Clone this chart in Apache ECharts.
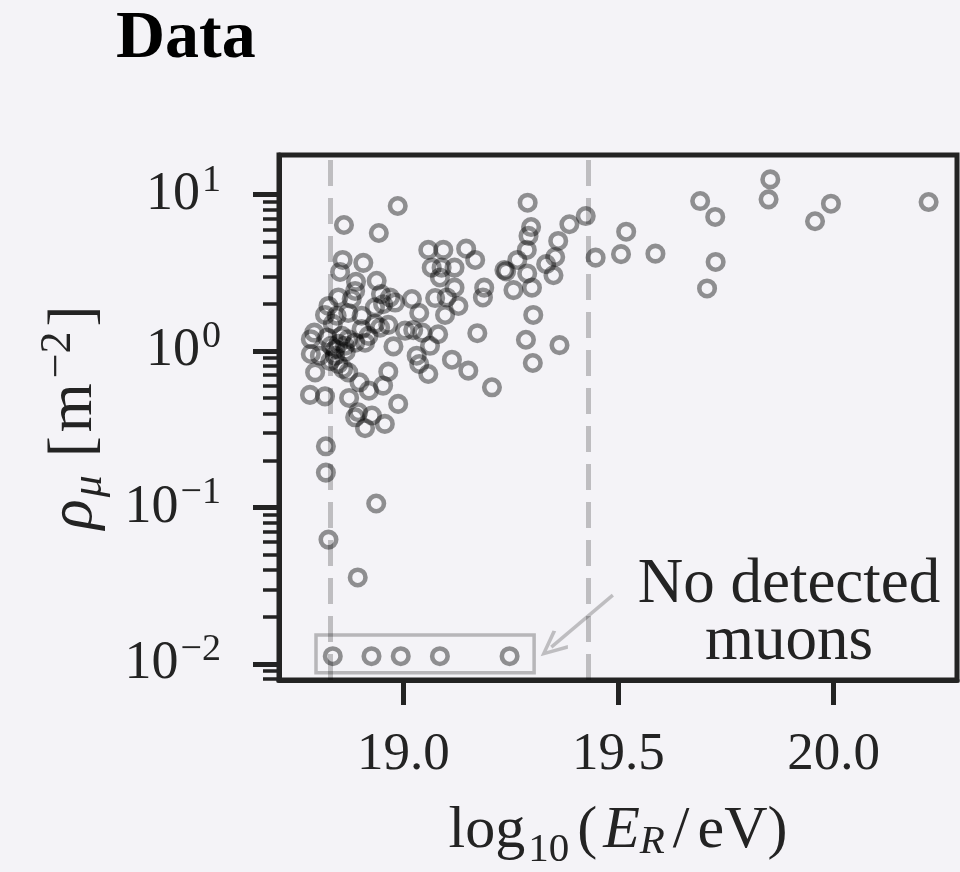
<!DOCTYPE html>
<html>
<head>
<meta charset="utf-8">
<script src="https://cdn.jsdelivr.net/npm/echarts@6/dist/echarts.min.js"></script>
<style>
  html, body { margin: 0; padding: 0; background: #f4f3f7; }
  #chart { width: 960px; height: 872px; }
</style>
</head>
<body>
<div id="chart"></div>
<script>
// log10(E_R / eV) of every event with a muon signal
var energy = [
  18.987, 18.862, 18.943, 18.859, 18.907, 18.853, 18.890, 18.888, 18.938, 18.849,
  18.880, 18.826, 18.818, 18.845, 18.872, 18.903, 18.948, 18.969, 18.981, 18.953,
  18.934, 19.020, 19.037, 19.023, 19.044, 19.004, 19.062, 19.081, 19.031, 19.037,
  19.058, 19.113, 19.151, 19.172, 19.206, 18.977, 18.965, 18.953, 18.920, 18.898,
  18.874, 18.818, 18.783, 18.795, 18.785, 18.785, 18.793, 18.806, 18.832, 18.849,
  18.864, 18.872, 18.888, 18.911, 18.919, 18.903, 18.934, 18.946, 18.965, 18.841,
  18.849, 18.860, 18.872, 18.988, 18.927, 18.895, 18.888, 18.957, 18.911, 19.058,
  19.093, 19.146, 19.167, 19.066, 19.089, 19.119, 19.085, 19.119, 19.074, 19.101,
  19.128, 19.097, 19.188, 19.185, 18.836, 18.823, 19.289, 19.297, 19.291, 19.424,
  19.386, 19.360, 19.353, 19.332, 19.349, 19.447, 19.287, 19.265, 19.235, 19.239,
  19.288, 19.299, 19.256, 19.302, 19.285, 19.301, 19.363, 19.518, 19.506, 19.586,
  19.690, 19.725, 19.726, 19.706, 19.853, 19.849, 19.994, 19.957, 20.221, 18.820,
  18.820, 18.937, 18.826, 18.894, 18.842, 18.866, 18.857, 18.830
];
// rho_mu in m^-2, same order
var muonDensity = [
  8.45, 6.39, 5.68, 3.82, 3.66, 3.20, 2.77, 2.42, 2.81, 2.20,
  2.15, 1.94, 1.70, 1.68, 1.75, 1.68, 2.31, 2.20, 2.04, 1.99,
  1.90, 2.15, 1.75, 1.36, 1.31, 1.35, 1.08, 1.28, 0.933, 0.826,
  0.713, 0.880, 0.749, 1.30, 0.586, 1.07, 0.738, 0.601, 0.558, 0.631,
  0.501, 0.513, 0.524, 0.730, 0.957, 1.19, 1.31, 0.933, 1.08, 1.11,
  1.08, 1.19, 1.13, 1.13, 1.25, 1.38, 1.49, 1.41, 1.47, 0.933,
  0.826, 0.768, 0.730, 0.459, 0.387, 0.406, 0.377, 0.342, 0.321, 4.43,
  4.43, 4.51, 3.82, 3.41, 3.41, 3.41, 2.95, 2.54, 2.18, 2.20,
  1.94, 1.70, 2.54, 2.20, 1.49, 1.22, 8.87, 6.20, 5.44, 7.29,
  6.46, 5.05, 3.99, 3.59, 3.05, 3.95, 4.43, 3.82, 3.29, 3.23,
  3.13, 2.54, 2.45, 1.70, 1.18, 0.838, 1.09, 5.79, 4.16, 4.19,
  9.09, 7.19, 3.71, 2.51, 12.5, 9.32, 8.74, 6.75, 8.96, 0.246,
  0.167, 0.106, 0.0623, 0.0357, 1.03, 0.99, 1.25, 0.86
];
// events without detected muons, drawn at a fixed floor value
var noMuonEnergy = [18.836, 18.926, 18.994, 19.085, 19.247];
var noMuonLevel = 0.0112;

var cutEnergy = [18.834, 19.434];
var xTicks = [19.0, 19.5, 20.0];
var yMajor = [0.01, 0.1, 1, 10];
var yMinor = [0.008, 0.009,
  0.02, 0.03, 0.04, 0.05, 0.06, 0.07, 0.08, 0.09,
  0.2, 0.3, 0.4, 0.5, 0.6, 0.7, 0.8, 0.9,
  2, 3, 4, 5, 6, 7, 8, 9];

var font = 'Liberation Serif';
var ink = '#232323';

var chart = echarts.init(document.getElementById('chart'));

var ringStyle = {
  color: 'rgba(0,0,0,0)',
  borderColor: 'rgba(0,0,0,0.52)',
  borderWidth: 4.6
};

chart.setOption({
  animation: false,
  backgroundColor: '#f4f3f7',
  textStyle: { fontFamily: font },
  title: {
    text: 'Data',
    left: 116,
    top: 5,
    padding: 0,
    textStyle: { fontFamily: font, fontWeight: 'bold', fontSize: 68, color: '#000' }
  },
  grid: {
    left: 279, right: 3, top: 155, bottom: 192,
    outerBoundsMode: 'none',
    containLabel: false,
    show: true, borderColor: ink, borderWidth: 5
  },
  xAxis: {
    type: 'value',
    min: 18.711,
    max: 20.287,
    splitLine: { show: false },
    axisLine: { lineStyle: { color: ink, width: 5 } },
    axisTick: { customValues: xTicks, length: 25, lineStyle: { color: ink, width: 5 } },
    axisLabel: {
      customValues: xTicks,
      margin: 49,
      fontSize: 53,
      color: ink,
      formatter: function (v) { return v.toFixed(1); }
    },
    name: '{t|log}{sub|10}{t|(}{it|E}{itsub|R}{sl|/}{t|eV)}',
    nameLocation: 'middle',
    nameGap: 112,
    nameTextStyle: {
      color: ink,
      rich: {
        t: { fontSize: 60, color: ink, fontFamily: font },
        sub: { fontSize: 41, color: ink, fontFamily: font, padding: [38, 8, 0, 3] },
        it: { fontSize: 60, color: ink, fontFamily: font, fontStyle: 'italic', padding: [0, 0, 0, 6] },
        itsub: { fontSize: 41, color: ink, fontFamily: font, fontStyle: 'italic', padding: [22, 0, 0, 0] },
        sl: { fontSize: 60, color: ink, fontFamily: font, padding: [0, 8, 0, 8] }
      }
    }
  },
  yAxis: [{
    type: 'log',
    logBase: 10,
    min: 0.00789,
    max: 17.9,
    splitLine: { show: false },
    axisLine: { lineStyle: { color: ink, width: 5 } },
    axisTick: { customValues: yMajor, length: 26, lineStyle: { color: ink, width: 5 } },
    axisLabel: {
      customValues: yMajor,
      margin: 58,
      color: ink,
      formatter: function (v) {
        var p = Math.round(Math.log10(v));
        return '{b|10}{s|' + (p < 0 ? '\u2212' + (-p) : p) + '}';
      },
      rich: {
        b: { fontSize: 54, color: ink, fontFamily: font },
        s: { fontSize: 38, color: ink, fontFamily: font, padding: [0, 0, 28, 2] }
      }
    },
    name: '{it|\u03c1}{isub|\u03bc}{br|[}{t|m}{sup|\u22122}{t|]}',
    nameLocation: 'middle',
    nameRotate: 90,
    nameGap: 167,
    nameTextStyle: {
      color: ink,
      rich: {
        t: { fontSize: 63, color: ink, fontFamily: font },
        br: { fontSize: 63, color: ink, fontFamily: font, padding: [0, 4, 0, 18] },
        it: { fontSize: 63, color: ink, fontFamily: font, fontStyle: 'italic' },
        isub: { fontSize: 44, color: ink, fontFamily: font, fontStyle: 'italic', padding: [30, 0, 0, 2] },
        sup: { fontSize: 44, color: ink, fontFamily: font, padding: [0, 5, 32, 5] }
      }
    }
  }, {
    type: 'log',
    logBase: 10,
    min: 0.00789,
    max: 17.9,
    position: 'left',
    splitLine: { show: false },
    axisLine: { show: false },
    axisLabel: { show: false },
    axisTick: { customValues: yMinor, length: 16, lineStyle: { color: ink, width: 3.5 } }
  }],
  graphic: [{
    type: 'text',
    x: 789,
    y: 557,
    style: {
      text: 'No detected\nmuons',
      font: '63px "Liberation Serif"',
      fill: ink,
      textAlign: 'center',
      textVerticalAlign: 'top',
      lineHeight: 57
    }
  }],
  series: [{
    // selection cuts
    type: 'scatter',
    data: [],
    z: 1,
    silent: true,
    markLine: {
      silent: true,
      symbol: 'none',
      label: { show: false },
      lineStyle: { color: 'rgba(0,0,0,0.22)', width: 5, type: [26, 12] },
      data: cutEnergy.map(function (e) { return { xAxis: e }; })
    }
  }, {
    name: 'muons',
    type: 'scatter',
    z: 3,
    symbol: 'circle',
    symbolSize: 15.5,
    itemStyle: ringStyle,
    emphasis: { disabled: true },
    data: energy.map(function (e, i) { return [e, muonDensity[i]]; })
  }, {
    name: 'no muons',
    type: 'scatter',
    z: 3,
    symbol: 'circle',
    symbolSize: 15.5,
    itemStyle: ringStyle,
    emphasis: { disabled: true },
    data: noMuonEnergy.map(function (e) { return [e, noMuonLevel]; }),
    markArea: {
      silent: true,
      itemStyle: { color: 'rgba(0,0,0,0)', borderColor: 'rgba(0,0,0,0.25)', borderWidth: 3.5 },
      data: [[{ coord: [18.797, 0.01528] }, { coord: [19.304, 0.00879] }]]
    },
    markLine: {
      silent: true,
      label: { show: false },
      symbolSize: [24, 28],
      lineStyle: { color: 'rgba(0,0,0,0.22)', width: 3.5, type: 'solid' },
      data: [[
        { coord: [19.487, 0.02749], symbol: 'none' },
        { coord: [19.344, 0.0128], symbol: 'path://M10,0 L20,22 L17.5,24 L10,7 L2.5,24 L0,22 Z' }
      ]]
    }
  }]
});
</script>
</body>
</html>
